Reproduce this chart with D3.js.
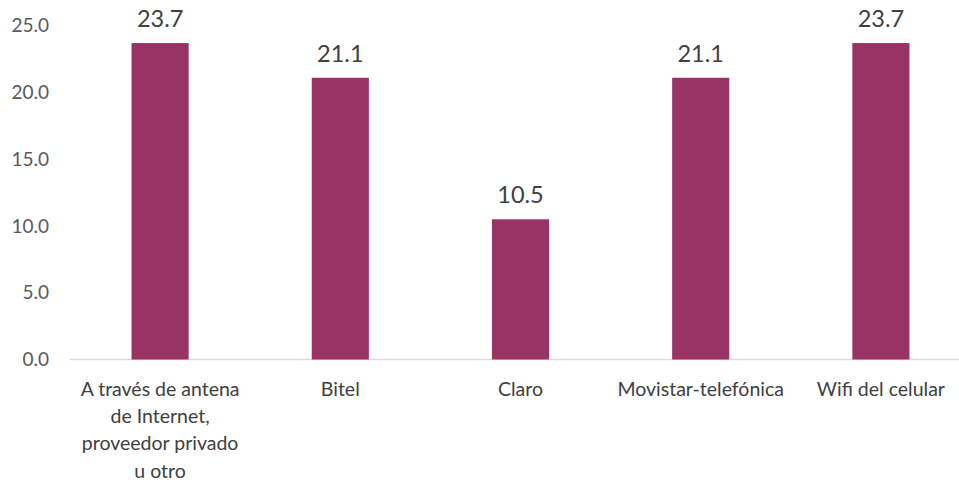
<!DOCTYPE html>
<html><head><meta charset="utf-8">
<script src="https://cdn.jsdelivr.net/npm/d3@7"></script>
<style>body{margin:0;background:#fff}svg{display:block}text{font-family:Lato,"Open Sans",sans-serif}</style>
</head><body>
<svg id="c" width="959" height="480"></svg>
<script>
const categories = [["A través de antena","de Internet,","proveedor privado","u otro"],["Bitel"],["Claro"],["Movistar-telefónica"],["Wifi del celular"]];
const values = [23.7, 21.1, 10.5, 21.1, 23.7];
const yTicks = [0, 5, 10, 15, 20, 25];

const svg = d3.select("#c");
const x = d3.scaleBand().domain(d3.range(values.length)).range([70, 971]).paddingInner(0.683).paddingOuter(0.3415);
const y = d3.scaleLinear().domain([0, 25]).range([359.5, 25.7]);

svg.append("line").attr("x1", 70).attr("x2", 959).attr("y1", y(0)).attr("y2", y(0))
  .attr("stroke", "#d9d9d9").attr("stroke-width", 1.5);

svg.selectAll("text.tick").data(yTicks).join("text").attr("class","tick")
  .attr("x", 49).attr("y", d => y(d)).attr("dy", "0.35em").attr("text-anchor", "end")
  .attr("font-size", 19).attr("fill", "#595959").text(d => d.toFixed(1));

svg.selectAll("rect.bar").data(values).join("rect").attr("class","bar")
  .attr("x", (d,i) => x(i)).attr("width", x.bandwidth())
  .attr("y", d => y(d)).attr("height", d => y(0) - y(d)).attr("fill", "#993366");

svg.selectAll("text.val").data(values).join("text").attr("class","val")
  .attr("x", (d,i) => x(i) + x.bandwidth()/2).attr("y", d => y(d) - 16)
  .attr("text-anchor", "middle").attr("font-size", 23.5).attr("fill", "#404040").text(d => d.toFixed(1));

categories.forEach((lines, i) => {
  const t = svg.append("text").attr("text-anchor", "middle").attr("font-size", 19.5).attr("fill", "#404040");
  lines.forEach((l, j) => t.append("tspan").attr("x", x(i) + x.bandwidth()/2).attr("y", 396 + j*27.2).text(l));
});
</script>
</body></html>
